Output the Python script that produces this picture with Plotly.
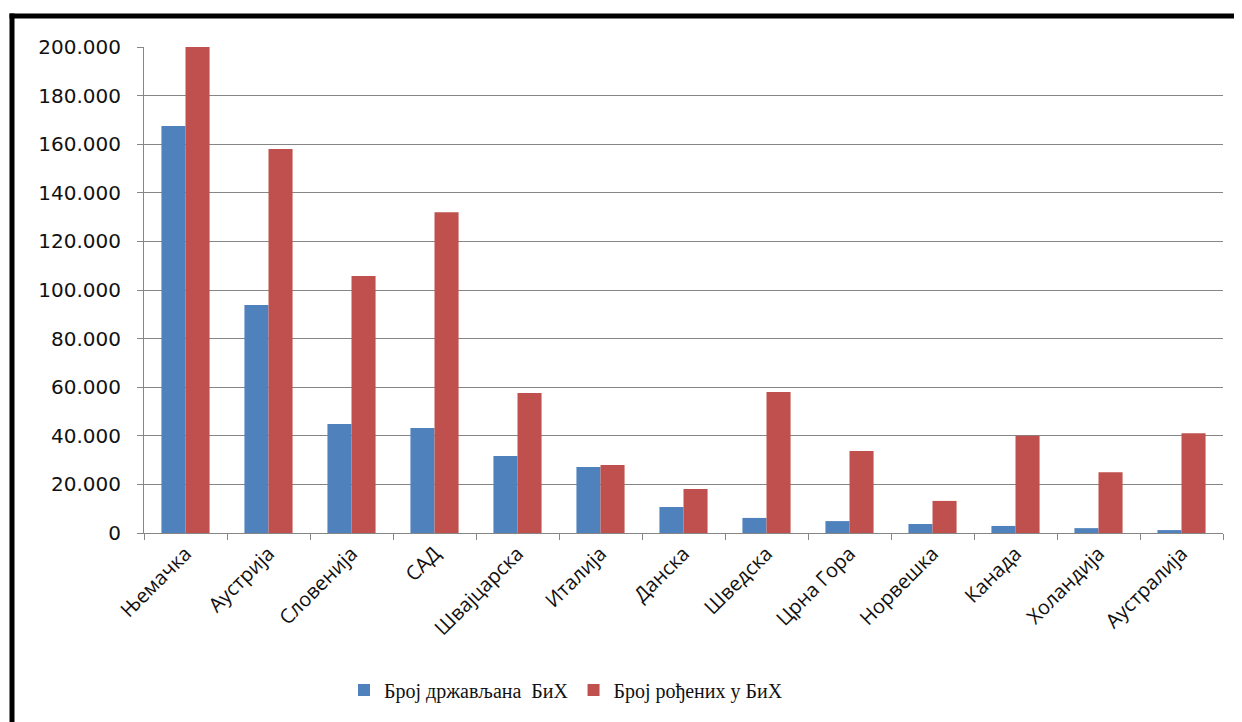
import plotly.graph_objects as go

countries = ["Њемачка", "Аустрија", "Словенија", "САД", "Швајцарска", "Италија",
             "Данска", "Шведска", "Црна Гора", "Норвешка", "Канада", "Холандија",
             "Аустралија"]
citizens = [167500, 93800, 44900, 43200, 31700, 27200, 10700, 6200, 4900, 3700,
            2900, 2000, 1200]
born = [200000, 158000, 105800, 132000, 57600, 28000, 18100, 58000, 33700, 13200,
        40000, 25000, 41000]

OFF = 8  # page body margin
W, H = 1242 - 2 * OFF, 722 - OFF
L, R, T, B = 144 - OFF, 19 - OFF, 47 - OFF, 189
pw, ph = W - L - R, H - T - B

fig = go.Figure()
fig.add_trace(go.Bar(x=countries, y=citizens, name="Број држављана\u00a0 БиХ",
                     marker=dict(color="#4F81BD", line=dict(width=0))))
fig.add_trace(go.Bar(x=countries, y=born, name="Број рођених у БиХ",
                     marker=dict(color="#C0504D", line=dict(width=0))))


# screen pixel -> paper coords
def px(x):
    return (x - OFF - L) / pw


def py(y):
    return (H + OFF - B - y) / ph


# black frame (left + top) like the cropped screenshot
fig.add_shape(type="line", xref="paper", yref="paper",
              x0=px(12), x1=px(12), y0=py(725), y1=py(13.5),
              line=dict(color="black", width=5))
fig.add_shape(type="line", xref="paper", yref="paper",
              x0=px(9.5), x1=px(1236), y0=py(16), y1=py(16),
              line=dict(color="black", width=5))

fig.update_layout(
    width=W, height=H,
    margin=dict(l=L, r=R, t=T, b=B),
    paper_bgcolor="white", plot_bgcolor="white",
    barmode="group", bargap=0.42, bargroupgap=0,
    separators=",.",
    showlegend=True,
    legend=dict(orientation="h", x=px(566), xanchor="center", y=py(690), yanchor="middle",
                font=dict(family="Liberation Serif", size=20, color="#111"),
                itemwidth=30, tracegroupgap=0),
    xaxis=dict(tickangle=-45, tickson="boundaries", ticks="outside", ticklen=6,
               tickcolor="#868686", showline=True, linecolor="#868686", linewidth=1,
               showgrid=False,
               tickfont=dict(family="Open Sans", size=20, color="#111")),
    yaxis=dict(range=[0, 200000], dtick=20000, tickformat=",d", ticks="outside",
               ticklen=6, tickcolor="#868686", showline=True, linecolor="#868686",
               linewidth=1, showgrid=True, gridcolor="#868686", gridwidth=1,
               zeroline=False, ticklabelstandoff=12,
               tickfont=dict(family="DejaVu Sans", size=20, color="#111")),
)

fig.write_html("out.html", config={"displayModeBar": False})
